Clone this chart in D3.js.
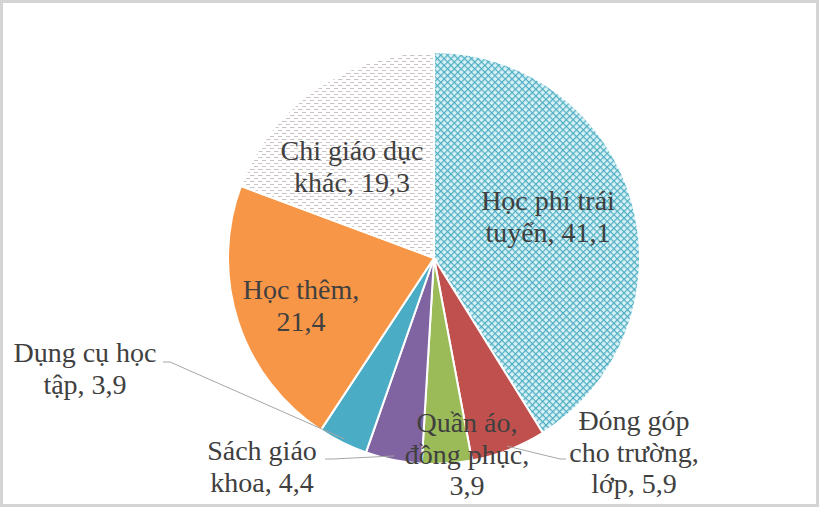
<!DOCTYPE html>
<html>
<head>
<meta charset="utf-8">
<script src="https://cdn.jsdelivr.net/npm/d3@7"></script>
<style>
  body { margin: 0; background: #fff; }
  svg text { font-family: "Times New Roman", "Liberation Serif", "DejaVu Serif", serif; }
</style>
</head>
<body>
<svg id="chart" width="820" height="508"></svg>
<script>
// data
const categories = ["Học phí trái tuyến", "Đóng góp cho trường, lớp", "Quần áo, đồng phục",
                    "Sách giáo khoa", "Dụng cụ học tập", "Học thêm", "Chi giáo dục khác"];
const values = [41.1, 5.9, 3.9, 4.4, 3.9, 21.4, 19.3];
const labelLines = [
  ["Học phí trái", "tuyển, 41,1"],
  ["Đóng góp", "cho trường,", "lớp, 5,9"],
  ["Quần áo,", "đồng phục,", "3,9"],
  ["Sách giáo", "khoa, 4,4"],
  ["Dụng cụ học", "tập, 3,9"],
  ["Học thêm,", "21,4"],
  ["Chi giáo dục", "khác, 19,3"]
];

// layout (label centre x, first baseline y) and leader elbows
const labelPos = [[548, 210], [634, 430], [467, 432], [262, 460], [85, 362], [301, 299], [352, 160]];
const leaderEnd = {1: [[566, 459], [560, 459]], 3: [[325, 459], [333, 459]], 4: [[163, 362], [170, 362]]};
const fills = ["url(#grid)", "#c0504d", "#9bbb59", "#8064a2", "#4bacc6", "#f79646", "url(#dash)"];

function main() {
  const svg = d3.select("#chart");
  const cx = 434, cy = 258, r = 206;

  const defs = svg.append("defs");
  const grid = defs.append("pattern").attr("id", "grid")
      .attr("patternUnits", "userSpaceOnUse")
      .attr("width", 4.8).attr("height", 4.8)
      .attr("patternTransform", "rotate(45)");
  grid.append("rect").attr("width", 4.8).attr("height", 4.8).attr("fill", "#d8f2f6");
  grid.append("path").attr("d", "M0,0.6H4.8M0.6,0V4.8")
      .attr("stroke", "#4eadc2").attr("stroke-width", 1.2);

  const dash = defs.append("pattern").attr("id", "dash")
      .attr("patternUnits", "userSpaceOnUse")
      .attr("width", 8).attr("height", 6);
  dash.append("rect").attr("width", 8).attr("height", 6).attr("fill", "#fff");
  dash.append("path").attr("d", "M0,1.5H4.5M4,4.5H8.5")
      .attr("stroke", "#cbc3c3").attr("stroke-width", 1);

  // frame
  svg.append("rect").attr("x", 1.5).attr("y", 1.5).attr("width", 816).attr("height", 504)
      .attr("fill", "#fff").attr("stroke", "#d4d4d4").attr("stroke-width", 3);

  const pie = d3.pie().sort(null).value(d => d)(values);
  const arc = d3.arc().innerRadius(0).outerRadius(r);

  const g = svg.append("g").attr("transform", "translate(" + cx + "," + cy + ")");
  g.selectAll(".slice")
    .data(pie)
    .enter().append("path")
    .attr("class", "slice")
    .attr("d", arc)
    .attr("fill", (d, i) => fills[i])
    .attr("stroke", "#fff")
    .attr("stroke-width", 2);

  // leader lines
  Object.keys(leaderEnd).forEach(function(k) {
    const p = pie[k];
    const a = (p.startAngle + p.endAngle) / 2;
    const anchor = [cx + Math.sin(a) * r * 0.98, cy - Math.cos(a) * r * 0.98];
    const pts = [leaderEnd[k][0], leaderEnd[k][1], anchor];
    svg.append("path")
      .attr("d", d3.line()(pts))
      .attr("fill", "none")
      .attr("stroke", "#a6a6a6")
      .attr("stroke-width", 1);
  });

  // labels
  labelLines.forEach(function(lines, i) {
    const t = svg.append("text")
      .attr("x", labelPos[i][0])
      .attr("y", labelPos[i][1])
      .attr("text-anchor", "middle")
      .style("font-family", '"Liberation Serif", "DejaVu Serif", serif')
      .style("font-size", "28px")
      .attr("fill", "#404040");
    lines.forEach(function(s, j) {
      t.append("tspan")
        .attr("x", labelPos[i][0])
        .attr("y", labelPos[i][1] + j * 31.5)
        .text(s);
    });
  });
}
main();
</script>
</body>
</html>
